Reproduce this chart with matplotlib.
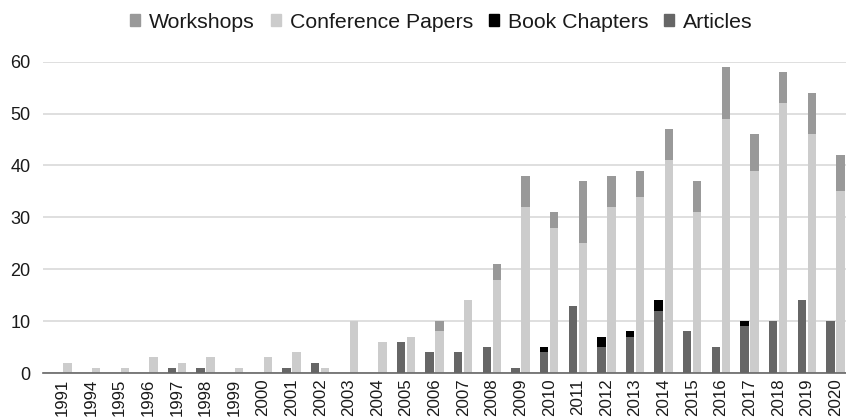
import matplotlib
matplotlib.use("Agg")
import matplotlib.pyplot as plt
import numpy as np
from matplotlib.patches import Patch

plt.rcParams['font.family'] = ['Liberation Sans', 'DejaVu Sans']

years = ['1991', '1994', '1995', '1996', '1997', '1998', '1999', '2000', '2001', '2002',
         '2003', '2004', '2005', '2006', '2007', '2008', '2009', '2010', '2011', '2012',
         '2013', '2014', '2015', '2016', '2017', '2018', '2019', '2020']
articles = [0, 0, 0, 0, 1, 1, 0, 0, 1, 2,
            0, 0, 6, 4, 4, 5, 1, 4, 13, 5,
            7, 12, 8, 5, 9, 10, 14, 10]
book_chapters = [0, 0, 0, 0, 0, 0, 0, 0, 0, 0,
                 0, 0, 0, 0, 0, 0, 0, 1, 0, 2,
                 1, 2, 0, 0, 1, 0, 0, 0]
conference_papers = [2, 1, 1, 3, 2, 3, 1, 3, 4, 1,
                     10, 6, 7, 8, 14, 18, 32, 28, 25, 32,
                     34, 41, 31, 49, 39, 52, 46, 35]
workshops = [0, 0, 0, 0, 0, 0, 0, 0, 0, 0,
             0, 0, 0, 2, 0, 3, 6, 3, 12, 6,
             5, 6, 6, 10, 7, 6, 8, 7]

c_art = '#666666'
c_book = '#000000'
c_conf = '#cccccc'
c_work = '#999999'

fig = plt.figure(figsize=(8.46, 4.19), dpi=100)
ax = fig.add_axes([43/846, 46/419, 1 - 43/846, (373 - 61.7)/419])

x = np.arange(len(years))
w = 0.29
off = 0.175
art = np.array(articles)
bc = np.array(book_chapters)
cp = np.array(conference_papers)
ws = np.array(workshops)

ax.bar(x - off, art, w, color=c_art, zorder=3)
ax.bar(x - off, bc, w, bottom=art, color=c_book, zorder=3)
ax.bar(x + off, cp, w, color=c_conf, zorder=3)
ax.bar(x + off, ws, w, bottom=cp, color=c_work, zorder=3)

ax.set_xlim(-0.681, 27.37)
ax.set_ylim(0, 60)
ax.set_yticks([0, 10, 20, 30, 40, 50, 60])
ax.yaxis.grid(True, color='#d9d9d9', linewidth=1.2, zorder=0)
ax.set_axisbelow(True)
for s in ['top', 'right', 'left']:
    ax.spines[s].set_visible(False)
ax.spines['bottom'].set_color('#666666')
ax.spines['bottom'].set_linewidth(1.2)
ax.spines['bottom'].set_zorder(4)

ax.set_xticks(x)
ax.set_xticklabels(years, rotation=90, va='top', ha='center')
ax.tick_params(axis='x', length=0, pad=4, labelsize=12.2, colors='#1a1a1a')
ax.tick_params(axis='y', length=0, pad=9, labelsize=13, colors='#1a1a1a')

handles = [Patch(color=c_work, label='Workshops'),
           Patch(color=c_conf, label='Conference Papers'),
           Patch(color=c_book, label='Book Chapters'),
           Patch(color=c_art, label='Articles')]
fig.legend(handles=handles, loc='center', bbox_to_anchor=(441.5/846, 1 - 22/419),
           ncol=4, frameon=False, fontsize=15.3, handlelength=0.47, handleheight=0.47,
           handletextpad=0.42, columnspacing=0.75, borderpad=0, labelcolor='#1a1a1a')

fig.savefig('out.png', dpi=100)
